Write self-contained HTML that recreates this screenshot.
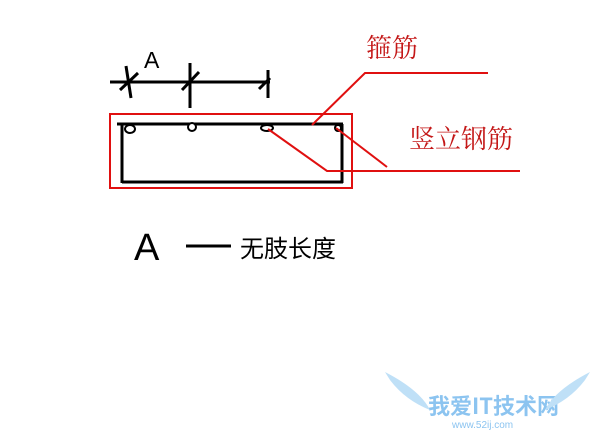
<!DOCTYPE html>
<html><head><meta charset="utf-8"><style>
body{margin:0;background:#fff;width:600px;height:440px;overflow:hidden}
</style></head><body>
<svg width="600" height="440" xmlns="http://www.w3.org/2000/svg">
<g stroke="#000" stroke-width="3" fill="none">
<line x1="110" y1="82" x2="270" y2="82"/>
<line x1="126" y1="66" x2="131" y2="98"/>
<line x1="120" y1="90" x2="138" y2="73"/>
<line x1="190" y1="63" x2="190" y2="108"/>
<line x1="182" y1="90" x2="199" y2="72"/>
<line x1="268" y1="70" x2="268" y2="98"/>
<line x1="259" y1="89" x2="270" y2="78"/>
<line x1="117" y1="124" x2="343" y2="124"/>
<line x1="122" y1="124" x2="122" y2="183"/>
<line x1="122" y1="182" x2="343" y2="182"/>
<line x1="342" y1="124" x2="342" y2="183"/>
</g>
<g stroke="#000" stroke-width="2" fill="#fff">
<ellipse cx="130" cy="129" rx="5" ry="4"/>
<ellipse cx="192" cy="127" rx="4" ry="4"/>
<ellipse cx="267" cy="128" rx="6" ry="3"/>
<ellipse cx="338" cy="128" rx="3" ry="3"/>
</g>
<text x="144" y="68" font-family="Liberation Sans,sans-serif" font-size="23" fill="#000">A</text>
<g stroke="#e01010" stroke-width="2" fill="none">
<rect x="110" y="114" width="242" height="74"/>
<polyline points="312,125 365,73 488,73"/>
<polyline points="268,129 327,171 520,171"/>
<line x1="336" y1="128" x2="387" y2="167"/>
</g>
<text x="366" y="57" font-family="Liberation Serif,'Noto Serif CJK SC',serif" font-size="26" fill="#c41818">箍筋</text>
<text x="409" y="148" font-family="Liberation Serif,'Noto Serif CJK SC',serif" font-size="26" fill="#c41818">竖立钢筋</text>
<text x="134" y="260" font-family="Liberation Sans,sans-serif" font-size="38" fill="#000">A</text>
<line x1="186" y1="246" x2="231" y2="246" stroke="#000" stroke-width="3"/>
<text x="240" y="257" font-family="Liberation Sans,'Noto Sans CJK SC',sans-serif" font-size="24" fill="#000">无肢长度</text>
<text x="428" y="414" font-family="'Noto Sans CJK SC',sans-serif" font-size="22" font-weight="bold" fill="#8cc4f0">我爱IT技术网</text>
<text x="452" y="428" font-family="Liberation Sans,sans-serif" font-size="10" fill="#8cc4f0">www.52ij.com</text>
<path d="M385 372 Q420 390 430 410 Q405 400 390 380Z" fill="#bfe0f7"/>
<path d="M590 372 Q555 390 545 410 Q570 400 585 380Z" fill="#bfe0f7"/>
</svg>
</body></html>
